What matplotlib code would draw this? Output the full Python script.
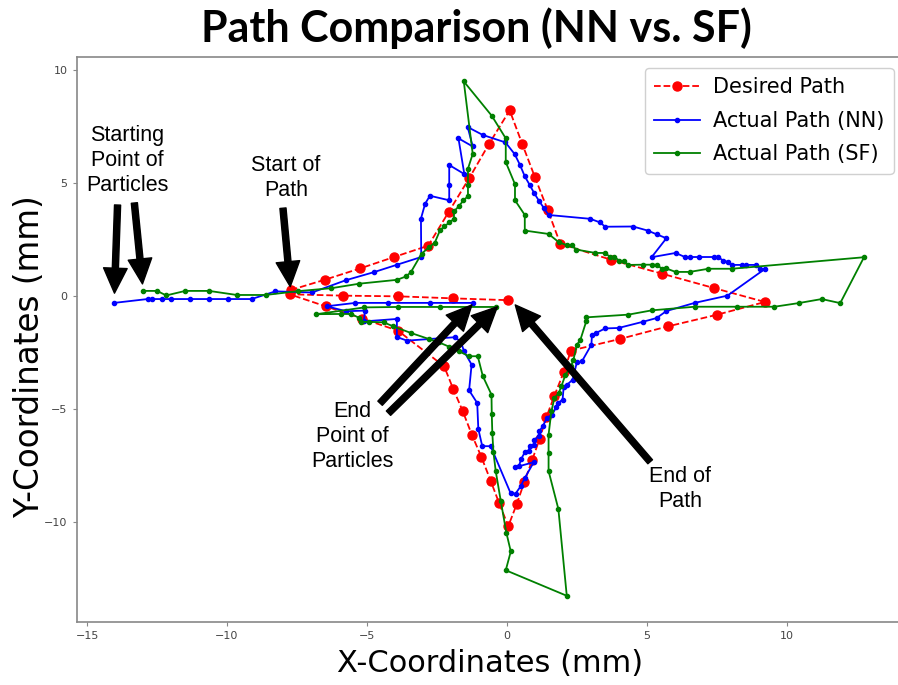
import numpy as np
import matplotlib
matplotlib.use("Agg")
import matplotlib.pyplot as plt
from matplotlib.patches import FancyArrowPatch

# desired path (red, dashed)
des_x = [-7.72, -6.49, -5.23, -4.03, -2.81, -2.07, -1.35, -0.64, 0.10, 0.55, 1.00, 1.46, 1.91,
         3.72, 5.55, 7.39, 9.22, 7.49, 5.75, 4.03, 2.29, 2.03, 1.70, 1.41, 1.17, 0.90, 0.62, 0.35,
         0.05, -0.28, -0.58, -0.91, -1.25, -1.58, -1.92, -2.24, -3.89, -5.16, -6.48, -7.76, -5.84,
         -3.88, -1.91, 0.05]
des_y = [0.25, 0.71, 1.21, 1.71, 2.21, 3.72, 5.19, 6.71, 8.20, 6.71, 5.25, 3.79, 2.29,
         1.59, 0.97, 0.34, -0.28, -0.85, -1.36, -1.92, -2.43, -3.39, -4.42, -5.38, -6.33, -7.29,
         -8.26, -9.23, -10.20, -9.17, -8.19, -7.14, -6.16, -5.10, -4.12, -3.13, -1.55, -1.02, -0.47,
         0.06, 0.0, -0.03, -0.12, -0.20]

# actual path, neural network (blue)
nn_x = [-14.03, -12.84, -12.68, -12.32, -11.99, -11.32, -10.64, -9.98, -9.12, -8.27, -6.96, -5.76,
        -4.75, -3.92, -3.06, -3.07, -2.92, -2.75, -2.06, -2.06, -2.06, -1.52, -1.73, -1.22, -1.40,
        -0.86, -0.05, 0.28, 0.47, 0.64, 0.81, 0.97, 1.14, 1.32, 1.49, 2.98, 3.33, 3.51, 4.51, 5.03,
        5.36, 5.70, 5.17, 6.03, 6.36, 6.54, 6.88, 7.39, 7.56, 7.73, 7.89, 8.04, 8.39, 8.55, 8.89,
        9.06, 9.23, 7.88, 6.71, 5.70, 5.35, 4.85, 3.99, 3.51, 3.19, 3.04, 3.02, 2.68, 2.50, 2.35,
        2.15, 2.03, 1.99, 1.83, 1.77, 1.61, 1.43, 1.28, 1.16, 1.14, 0.97, 0.96, 0.81, 0.78, 0.64,
        0.51, 0.43, 0.28, 0.96, 0.64, 0.49, 0.31, 0.13, -0.58, -0.88, -1.02, -1.06, -1.35, -1.26,
        -1.53, -1.65, -1.87, -3.57, -3.93, -3.93, -5.11, -5.07, -5.74, -6.44, -5.41, -4.23, -2.74,
        -1.21]
nn_y = [-0.32, -0.15, -0.15, -0.15, -0.15, -0.15, -0.15, -0.15, -0.15, 0.19, 0.14, 0.68,
        1.04, 1.37, 1.71, 3.41, 4.07, 4.42, 4.22, 4.90, 5.78, 5.38, 6.96, 6.60, 7.46,
        7.11, 6.78, 6.26, 5.78, 5.28, 4.91, 4.55, 4.21, 3.88, 3.57, 3.40, 3.24, 3.05, 3.06, 2.88,
        2.71, 2.54, 1.70, 1.89, 1.71, 1.71, 1.71, 1.71, 1.71, 1.54, 1.50, 1.36, 1.36, 1.36, 1.36,
        1.16, 1.19, 0.00, -0.32, -0.68, -0.99, -1.16, -1.43, -1.45, -1.65, -1.74, -2.17, -2.91, -2.95, -3.72,
        -3.94, -4.04, -4.60, -4.75, -4.93, -5.27, -5.41, -5.78, -6.00, -6.23, -6.37, -6.59, -6.66, -6.89, -6.93,
        -7.23, -7.55, -7.60, -7.37, -8.07, -8.44, -8.76, -8.73, -6.66, -6.66, -5.90, -4.75, -4.19, -3.05,
        -2.46, -2.02, -1.84, -1.99, -1.83, -1.03, -1.14, -0.66, -0.69, -0.47, -0.32, -0.32, -0.32,
        -0.32]

# actual path, SF (green)
sf_x = [-13.01, -12.50, -12.17, -11.49, -10.64, -9.65, -8.62, -7.46, -6.27, -5.27, -3.93, -3.60,
        -3.43, -3.05, -2.78, -2.58, -2.39, -2.23, -2.05, -1.89, -1.89, -1.72, -1.55, -1.39, -1.39,
        -1.39, -1.22, -1.54, -0.54, -0.04, -0.04, 0.29, 0.29, 0.64, 0.64, 1.49, 1.86, 2.15, 2.32,
        2.48, 3.16, 3.51, 3.69, 3.84, 4.02, 4.19, 4.34, 4.85, 5.20, 5.37, 5.53, 5.68, 6.03, 6.53,
        7.20, 8.04, 12.76, 11.91, 11.25, 10.42, 9.56, 8.22, 6.71, 5.18, 4.34, 2.84, 2.84, 2.62,
        2.50, 2.38, 2.29, 2.09, 1.95, 1.85, 1.70, 1.59, 1.49, 1.49, 1.49, 1.84, 2.14, -0.04, 0.14,
        -0.02, -0.22, -0.40, -0.48, -0.52, -0.54, -0.55, -0.86, -1.04, -1.36, -1.71, -2.06, -2.42,
        -2.78, -3.43, -4.06, -4.40, -4.91, -5.21, -5.27, -5.56, -5.94, -6.81, -5.09, -3.90, -2.40,
        -0.38]
sf_y = [0.21, 0.21, 0.01, 0.21, 0.21, 0.03, 0.03, 0.20, 0.33, 0.53, 0.70, 0.85,
        1.04, 1.85, 2.15, 2.33, 2.89, 3.07, 3.24, 3.40, 3.73, 3.95, 4.22, 4.40, 4.91,
        5.62, 6.27, 9.48, 7.96, 6.96, 5.91, 4.93, 4.22, 3.57, 2.88, 2.73, 2.36, 2.23, 2.22,
        2.04, 1.89, 1.89, 1.71, 1.71, 1.55, 1.52, 1.36, 1.37, 1.37, 1.37, 1.19, 1.21, 1.05, 1.05,
        1.19, 1.19, 1.70, -0.33, -0.15, -0.33, -0.49, -0.49, -0.49, -0.65, -0.84, -0.96, -1.12, -1.98,
        -2.17, -2.83, -3.13, -3.50, -4.01, -4.31, -4.53, -5.12, -6.15, -6.96, -7.76, -9.44, -13.28, -12.15, -11.32,
        -10.48, -9.07, -7.75, -6.93, -6.08, -5.22, -4.38, -3.56, -2.68, -2.68, -2.46, -2.26, -2.07,
        -1.92, -1.65, -1.36, -1.18, -1.16, -1.16, -0.99, -0.81, -0.81, -0.82, -0.52, -0.50, -0.50,
        -0.50]

# labels and arrows: (text, x, y), arrows as (tail, tip)
notes = [("Starting\nPoint of\nParticles", -13.56, 6.0),
         ("Start of\nPath", -7.90, 5.21),
         ("End\nPoint of\nParticles", -5.53, -6.25),
         ("End of\nPath", 6.19, -8.55)]
arrows = [((-13.91, 4.01), (-14.02, 0.11)),
          ((-13.31, 4.10), (-13.02, 0.52)),
          ((-8.0, 3.87), (-7.74, 0.40)),
          ((-4.53, -4.76), (-1.25, -0.41)),
          ((-4.23, -5.20), (-0.34, -0.49)),
          ((5.12, -7.35), (0.30, -0.41))]

W, H = 898, 685
fig = plt.figure(figsize=(W / 100, H / 100), dpi=100)
x0, x1, y0, y1 = 76.7, 901.5, 57, 622
ax = fig.add_axes([x0 / W, 1 - y1 / H, (x1 - x0) / W, (y1 - y0) / H])

ax.plot(des_x, des_y, '--', color='red', lw=1.3, marker='o', ms=6.5, label='Desired Path')
ax.plot(nn_x, nn_y, '-', color='blue', lw=1.3, marker='o', ms=3, label='Actual Path (NN)')
ax.plot(sf_x, sf_y, '-', color='green', lw=1.3, marker='o', ms=3, label='Actual Path (SF)')

ax.set_xlim(-15.37, 14.10)
ax.set_ylim(-14.44, 10.56)
ax.set_xticks([-15, -10, -5, 0, 5, 10])
ax.set_yticks([-10, -5, 0, 5, 10])
ax.tick_params(labelsize=8, colors='#444444', length=3, color='#888888')
for s in ax.spines.values():
    s.set_color('#888888')
    s.set_linewidth(1.2)

leg = ax.legend(loc='upper right', fontsize=15, handlelength=2.2, handletextpad=0.6,
                framealpha=1, edgecolor='#d0d0d0', borderpad=0.45, labelspacing=0.65,
                bbox_to_anchor=(1.003, 0.999))

for txt, tx, ty in notes:
    ax.text(tx, ty, txt, ha='center', va='center', fontsize=15.5,
            family=['Liberation Sans', 'DejaVu Sans'], linespacing=1.25)
for tail, tip in arrows:
    ax.add_patch(FancyArrowPatch(tail, tip, arrowstyle='simple,head_length=0.9,head_width=0.85,tail_width=0.22',
                                 mutation_scale=20, color='black', shrinkA=0, shrinkB=0, zorder=5))

fig.text(476.5 / W, 1 - 28 / H, 'Path Comparison (NN vs. SF)', ha='center', va='center',
         fontsize=31, fontweight='bold', family=['Lato', 'DejaVu Sans'])
fig.text(490 / W, 1 - 663 / H, 'X-Coordinates (mm)', ha='center', va='center', fontsize=22)
fig.text(30 / W, 1 - 357 / H, 'Y-Coordinates (mm)', ha='center', va='center', fontsize=23.5,
         rotation=90)

fig.savefig('out.png', dpi=100)
